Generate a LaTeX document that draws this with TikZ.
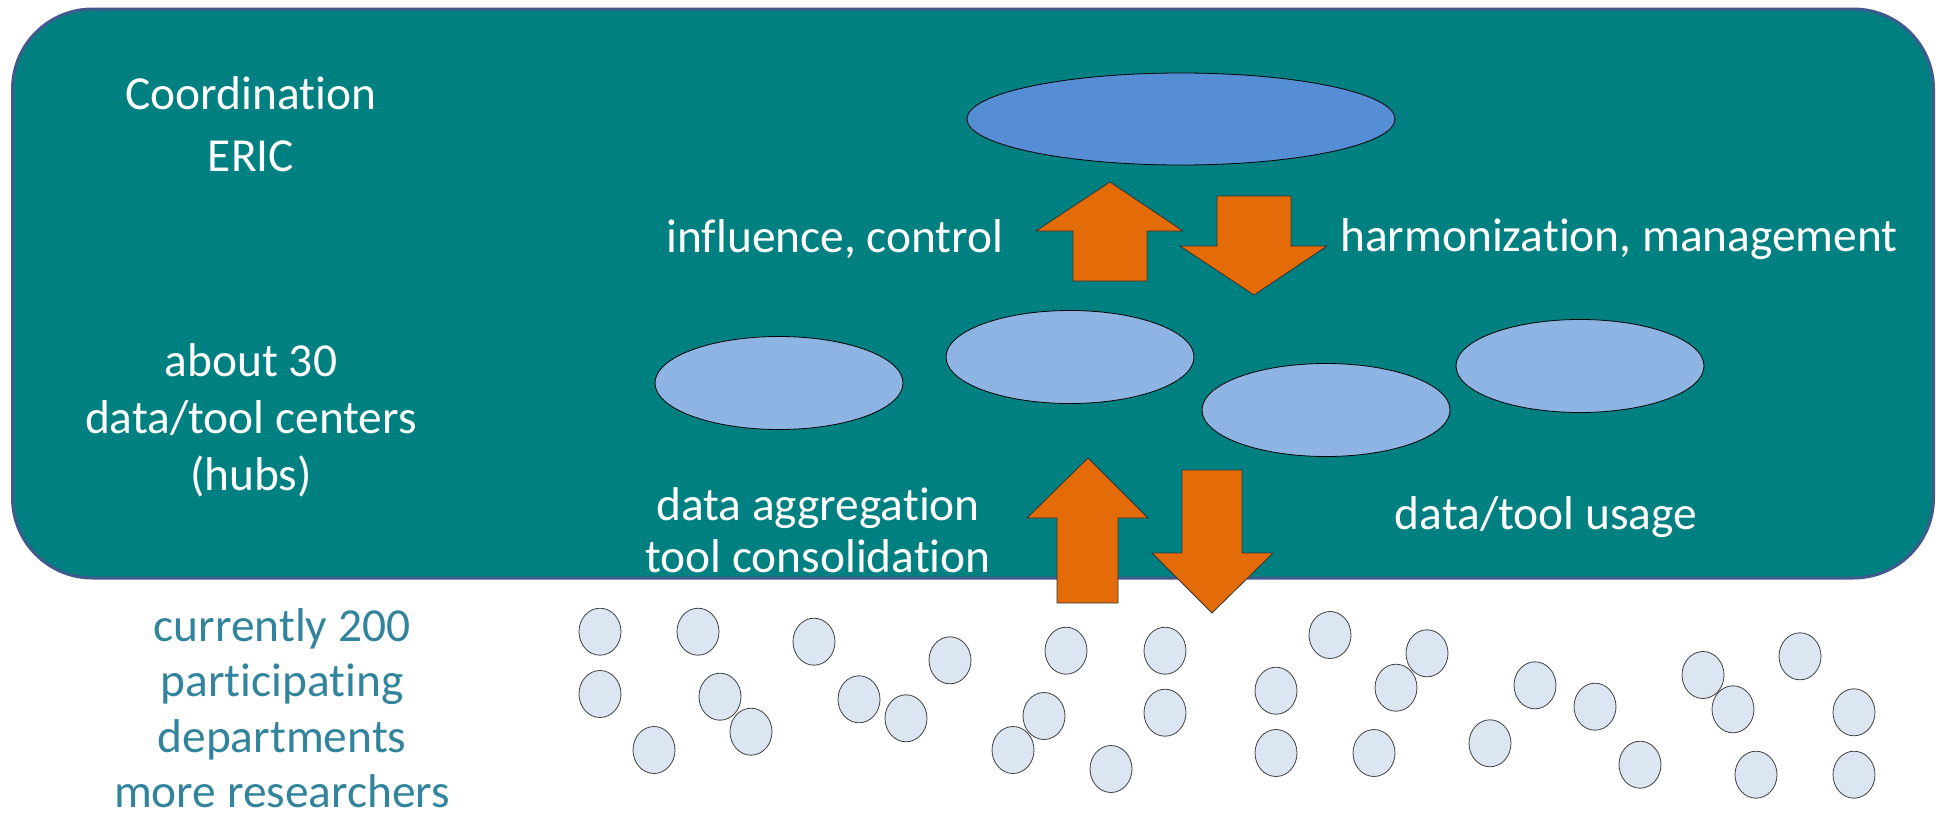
\documentclass[tikz,border=0pt]{standalone}
\usepackage{fontspec}
\setmainfont[Ligatures=NoCommon]{Carlito}
\usetikzlibrary{shapes.geometric}
\definecolor{boxteal}{RGB}{0,128,128}
\definecolor{boxborder}{RGB}{63,90,140}
\definecolor{topell}{RGB}{85,142,213}
\definecolor{hubell}{RGB}{142,180,227}
\definecolor{deptfill}{RGB}{220,230,242}
\definecolor{arroworange}{RGB}{227,108,9}
\definecolor{depttext}{RGB}{49,132,155}
\begin{document}
\begin{tikzpicture}[x=1pt,y=-1pt,
  lbl/.style={text=white,font=\fontsize{47.4}{57}\selectfont,align=center,inner sep=0pt},
  depttxt/.style={text=depttext,font=\fontsize{47.4}{55.5}\selectfont,align=center,inner sep=0pt},
  topellipse/.style={ellipse,draw=black,line width=0.8pt,fill=topell,minimum width=428pt,minimum height=92pt,inner sep=0pt},
  hub/.style={ellipse,draw=black,line width=0.8pt,fill=hubell,minimum width=248pt,minimum height=93pt,inner sep=0pt},
  dept/.style={ellipse,draw=black!75,line width=0.8pt,fill=deptfill,minimum width=42pt,minimum height=47pt,inner sep=0pt},
  barrow/.style={draw=black!80,line width=0.8pt,fill=arroworange,line join=miter}]
\useasboundingbox (0,0) rectangle (1939,819);
% main ERIC box
\node[draw=boxborder,line width=3pt,fill=boxteal,rounded corners=80pt,
  minimum width=1921pt,minimum height=569pt,inner sep=0pt] (ericbox) at (973,293.5) {};
% top ellipse
\node[topellipse] (coord) at (1181,119) {};
% hubs
\node[hub] (hubA) at (779,383) {};
\node[hub] (hubB) at (1070,357) {};
\node[hub] (hubC) at (1326,410) {};
\node[hub] (hubD) at (1580,366) {};
% block arrows
\draw[barrow] (1110,182) -- (1183,231) -- (1147,231) -- (1147,281) -- (1073,281) -- (1073,231) -- (1036,231) -- cycle;
\draw[barrow] (1217,196) -- (1291,196) -- (1291,246) -- (1327,246) -- (1254,295) -- (1180,246) -- (1217,246) -- cycle;
\draw[barrow] (1088,458) -- (1148,518) -- (1118,518) -- (1118,603) -- (1057,603) -- (1057,518) -- (1027,518) -- cycle;
\draw[barrow] (1182,470) -- (1242,470) -- (1242,553) -- (1273,553) -- (1212,613) -- (1152,553) -- (1182,553) -- cycle;
% labels
\node[lbl,font=\fontsize{47.4}{62}\selectfont] (lcoord) at (251,124) {Coordination\\ERIC};
\node[lbl] (lhubs) at (251,420) {about 30\\data/tool centers\\(hubs)};
\node[lbl] (linfl) at (835,239) {influence, control};
\node[lbl] (lharm) at (1619,239) {harmonization, management};
\node[lbl,font=\fontsize{47.4}{52}\selectfont] (laggr) at (818,530) {data aggregation\\tool consolidation};
\node[lbl] (lusage) at (1546,517) {data/tool usage};
\node[depttxt] (ldept) at (282,708) {currently 200\\participating\\departments\\more researchers};
% departments
\foreach \x/\y [count=\i] in {600/631.7, 698/631.7, 814/641.7, 950/660.3, 1066/650.7, 1165/650.7,
  600/694, 720/696.7, 751/731.7, 654/750, 859/699.3, 906/718.3, 1044/716, 1165/712.7, 1013/750, 1111/769,
  1330/635, 1427/653.3, 1276/690.7, 1396/687.7, 1535/685.3, 1595/706.7, 1703/675, 1800/656.3,
  1733/709.3, 1854/712.3, 1276/753, 1374/753, 1490/743.3, 1640/764.7, 1756/774.7, 1854/774.7}
  \node[dept] (d\i) at (\x,\y) {};
\end{tikzpicture}
\end{document}
